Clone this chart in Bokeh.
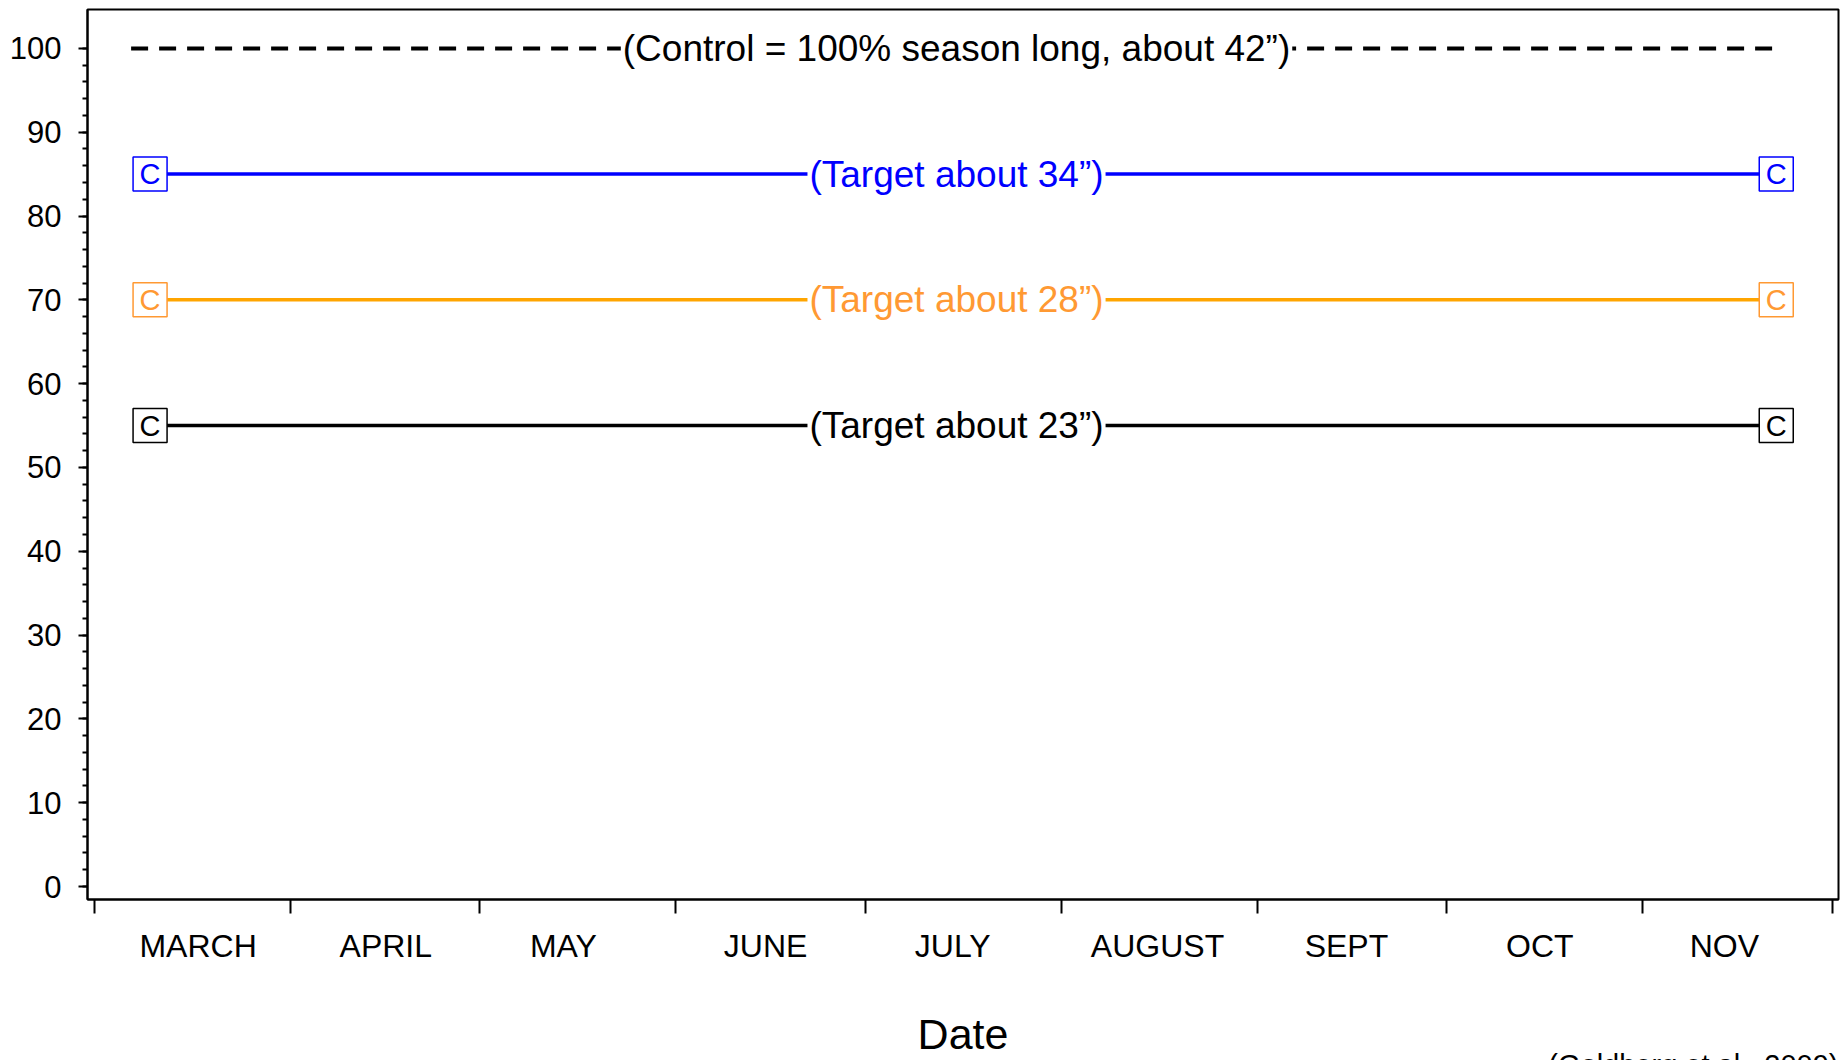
from bokeh.plotting import figure
from bokeh.models import FixedTicker, Range1d, ColumnDataSource, Title
from bokeh.core.properties import value
from bokeh.embed import file_html
from bokeh.resources import INLINE

# ---- data (x in days since March 1) ----
months = ["MARCH", "APRIL", "MAY", "JUNE", "JULY", "AUGUST", "SEPT", "OCT", "NOV"]
month_start_days = [0, 31, 61, 92, 122, 153, 184, 214, 245, 275]
month_label_days = [16.4, 46.1, 74.2, 106.2, 135.8, 168.2, 198.1, 228.7, 257.9]

y_ticks = [0, 10, 20, 30, 40, 50, 60, 70, 80, 90, 100]
y_minor = list(range(0, 101, 2))

target_names = ["(Target about 34\u201d)", "(Target about 28\u201d)", "(Target about 23\u201d)"]
target_values = [85, 70, 55]
line_colors = ["#0000FF", "#FFA500", "#000000"]
text_colors = ["#0000FF", "#FF9933", "#000000"]
season_start = 8.8
season_end = 266.1
label_day = 136.4

control_text = "(Control = 100% season long, about 42\u201d)"
control_value = 100
control_start = 5.8
control_end = 267.1

citation = "(Goldberg et al., 2009)"

FONT = "Liberation Sans"

p = figure(width=1845, height=1060, output_backend="svg", toolbar_location=None,
           x_range=Range1d(-1.1, 275.95), y_range=Range1d(-1.55, 104.64),
           min_border_left=87, min_border_right=7, min_border_top=9, min_border_bottom=159)
p.grid.grid_line_color = None
p.outline_line_color = "black"
p.outline_line_width = 2
p.outline_line_alpha = 1
p.background_fill_color = "white"
p.border_fill_color = "white"

# control dashed line
p.line([control_start, control_end], [control_value, control_value],
       line_color="black", line_width=4, line_dash="17 11")

# target lines
for v, c in zip(target_values, line_colors):
    p.line([season_start, season_end], [v, v], line_color=c, line_width=3.5)

# C markers
mx, my, mc, mt = [], [], [], []
for v, tc in zip(target_values, text_colors):
    for xx in (season_start, season_end):
        mx.append(xx); my.append(v); mc.append(tc); mt.append("C")
msrc = ColumnDataSource(dict(x=mx, y=my, c=mc, t=mt))
p.scatter("x", "y", source=msrc, marker="square", size=34, fill_color="white",
          line_color="c", line_width=1.5)
p.text("x", "y", text="t", source=msrc, text_color="c", text_font=value(FONT),
       text_font_size="29px", text_align="center", text_baseline="middle")

# line labels
lsrc = ColumnDataSource(dict(x=[label_day] * 4, y=[control_value] + target_values,
                             t=[control_text] + target_names,
                             c=["#000000"] + text_colors))
p.text("x", "y", text="t", source=lsrc, text_color="c", text_font=value(FONT),
       text_font_size="37px", text_align="center", text_baseline="middle",
       background_fill_color="white", padding=2)

# x axis
xa = p.xaxis[0]
xa.ticker = FixedTicker(ticks=month_label_days, minor_ticks=month_start_days)
xa.major_label_overrides = {d: m for d, m in zip(month_label_days, months)}
xa.major_tick_out = 0
xa.major_tick_in = 0
xa.minor_tick_out = 14
xa.minor_tick_in = 0
xa.minor_tick_line_width = 2
xa.minor_tick_line_color = "black"
xa.axis_line_width = 2
xa.axis_line_color = "black"
xa.major_label_text_font = FONT
xa.major_label_text_font_size = "32px"
xa.major_label_text_color = "black"
xa.major_label_standoff = 14
xa.axis_label = "Date"
xa.axis_label_text_font = FONT
xa.axis_label_text_font_size = "43px"
xa.axis_label_text_font_style = "normal"
xa.axis_label_text_color = "black"
xa.axis_label_standoff = 43

# y axis
ya = p.yaxis[0]
ya.ticker = FixedTicker(ticks=y_ticks, minor_ticks=y_minor)
ya.major_tick_out = 9
ya.major_tick_in = 0
ya.minor_tick_out = 5
ya.minor_tick_in = 0
ya.major_tick_line_width = 2
ya.minor_tick_line_width = 2
ya.axis_line_width = 2
ya.axis_line_color = "black"
ya.major_label_text_font = FONT
ya.major_label_text_font_size = "31px"
ya.major_label_text_color = "black"
ya.major_label_standoff = 17

# citation (cut at the bottom edge as in the source)
p.add_layout(Title(text=citation, align="right", text_font=FONT, text_font_size="29px",
                   text_font_style="normal", text_color="black", standoff=-40), "below")

open("out.html", "w").write(file_html(p, INLINE))
